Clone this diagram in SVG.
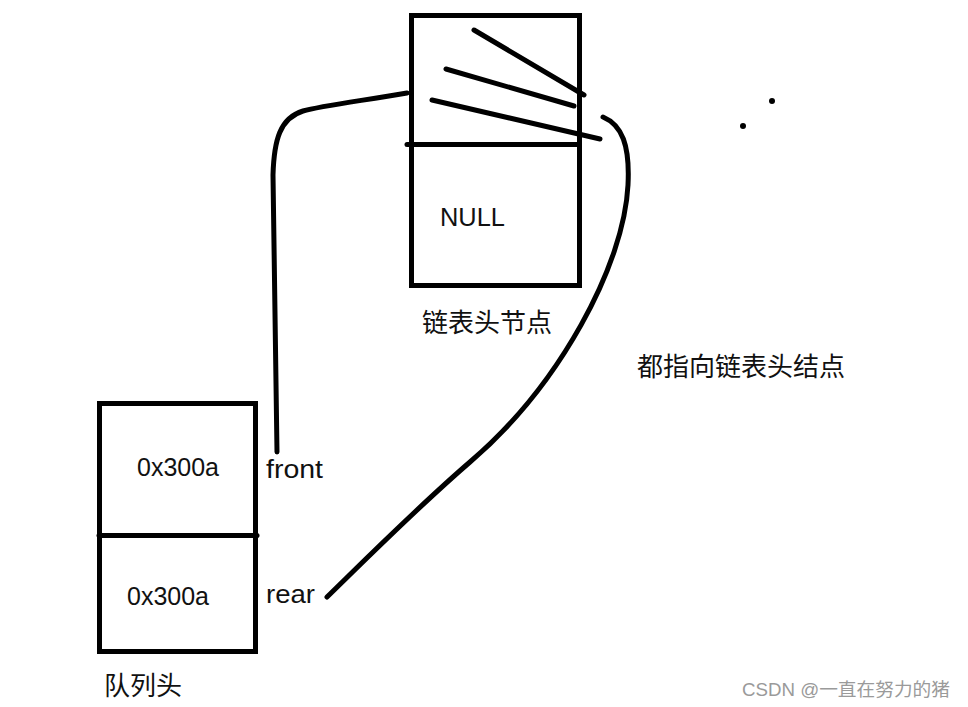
<svg xmlns="http://www.w3.org/2000/svg" width="968" height="707" viewBox="0 0 968 707">
<style>
.box{fill:none;stroke:#000;stroke-width:5}
.ln{fill:none;stroke:#000;stroke-width:5;stroke-linecap:round;stroke-linejoin:round}
.t{font-family:"Liberation Sans","Noto Sans CJK SC",sans-serif;font-size:25px;fill:#111}
.c{font-family:"Noto Sans CJK SC","Liberation Sans",sans-serif;font-size:26px;fill:#111}
.wm{font-family:"Liberation Sans","Noto Sans CJK SC",sans-serif;font-size:18px;fill:#9a9a9a}
</style>
<rect width="968" height="707" fill="#fff"/>
<g id="list-head">
<rect class="box" x="411.5" y="15.5" width="168" height="270"/>
<line class="ln" x1="407" y1="144.5" x2="579" y2="144.5"/>
<line class="ln" x1="474" y1="30" x2="584" y2="95"/>
<line class="ln" x1="446" y1="69" x2="574" y2="106"/>
<line class="ln" x1="432" y1="100" x2="600" y2="139"/>
<text class="t" x="440" y="226" textLength="65" lengthAdjust="spacingAndGlyphs">NULL</text>
<text class="c" x="422" y="332">链表头节点</text>
</g>
<g id="queue-head">
<rect class="box" x="99.5" y="403.5" width="156" height="248"/>
<line class="ln" x1="99" y1="535.5" x2="257" y2="535.5"/>
<text class="t" x="137" y="476">0x300a</text>
<text class="t" x="127" y="605">0x300a</text>
<text class="c" x="104" y="695">队列头</text>
</g>
<g id="connectors">
<path class="ln" d="M407,93 C360,101 320,106 303,111 C280,118 274,140 273,175 L277,452"/>
<path class="ln" d="M603,117 C622,125 630,145 628,185 C624,265 560,385 470,462 C420,505 370,555 327,597"/>
</g>
<g id="labels">
<text class="t" x="266" y="478" textLength="57" lengthAdjust="spacingAndGlyphs">front</text>
<text class="t" x="266" y="603" textLength="49" lengthAdjust="spacingAndGlyphs">rear</text>
<text class="c" x="637" y="376">都指向链表头结点</text>
</g>
<g id="dots">
<circle cx="772" cy="101" r="3" fill="#000"/>
<circle cx="743" cy="126" r="3" fill="#000"/>
</g>
<text class="wm" x="742" y="696" textLength="208" lengthAdjust="spacingAndGlyphs">CSDN @一直在努力的猪</text>
</svg>
